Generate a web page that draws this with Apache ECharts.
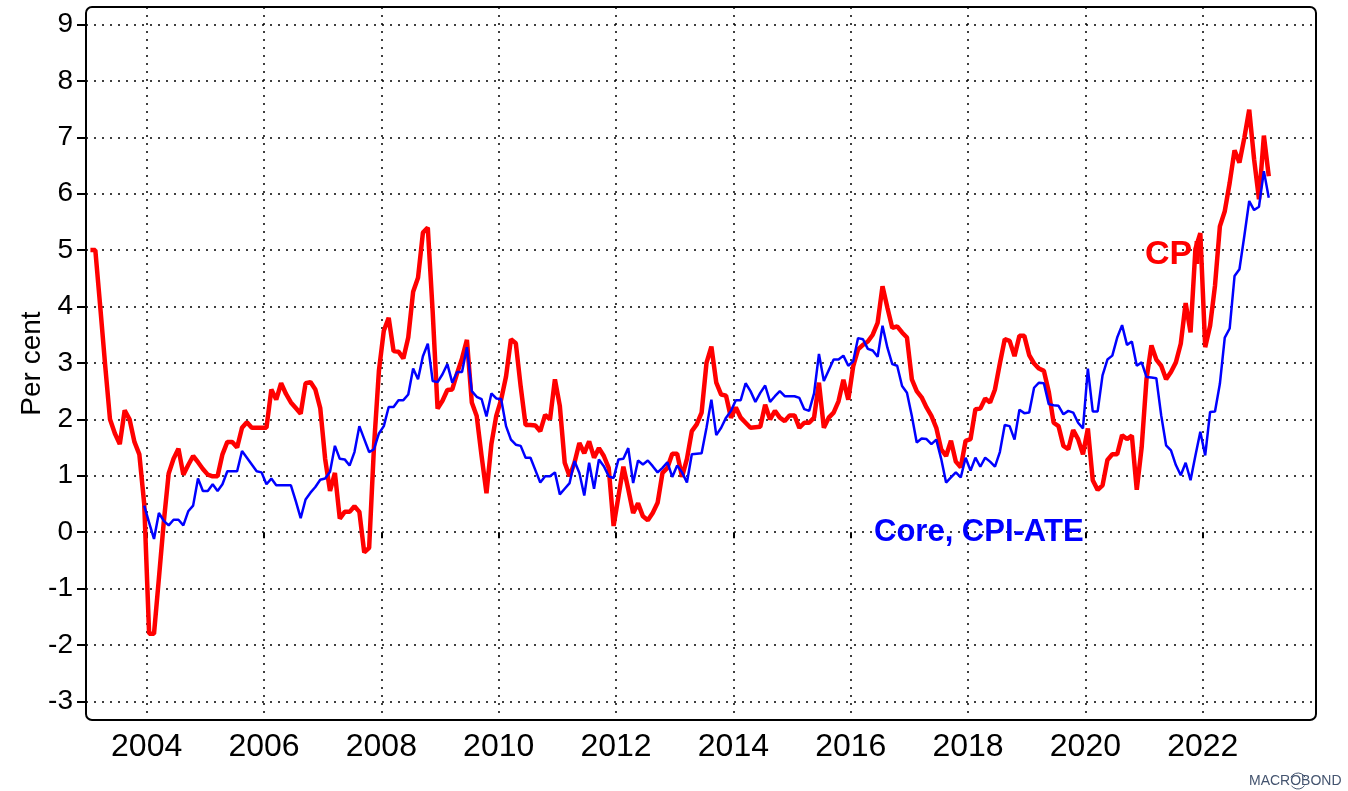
<!DOCTYPE html>
<html>
<head>
<meta charset="utf-8">
<script src="https://cdn.jsdelivr.net/npm/echarts@6/dist/echarts.min.js"></script>
<style>
  html, body { margin: 0; padding: 0; background: #fff; }
  #main { width: 1348px; height: 791px; }
</style>
</head>
<body>
<div id="main"></div>
<script>
// Norway, 12-month change, monthly
var startYear = 2003;
var cpiStart = 0;    // Jan 2003
var coreStart = 11;  // Dec 2003

var cpi = [5.0, 5.0, 4.0, 2.97, 2.0, 1.75, 1.56, 2.16, 2.0, 1.6, 1.38, 0.5,
    -1.8, -1.8, -0.82, 0.18, 1.04, 1.3, 1.48, 1.02, 1.19, 1.35, 1.24, 1.12,
    1.02, 0.99, 0.99, 1.38, 1.6, 1.6, 1.5, 1.85, 1.95, 1.85, 1.85, 1.85,
    1.85, 2.53, 2.35, 2.64, 2.45, 2.3, 2.2, 2.1, 2.64, 2.66, 2.53, 2.2,
    1.3, 0.73, 1.05, 0.24, 0.36, 0.36, 0.46, 0.36, -0.36, -0.28, 1.53, 2.86,
    3.57, 3.8, 3.21, 3.2, 3.08, 3.45, 4.26, 4.51, 5.31, 5.4, 3.9, 2.19,
    2.33, 2.52, 2.53, 2.82, 3.08, 3.41, 2.3, 2.06, 1.35, 0.69, 1.56, 2.06,
    2.35, 2.76, 3.42, 3.35, 2.58, 1.9, 1.9, 1.89, 1.79, 2.08, 2.0, 2.71,
    2.24, 1.23, 0.99, 1.23, 1.58, 1.4, 1.61, 1.32, 1.49, 1.35, 1.14, 0.11,
    0.64, 1.16, 0.76, 0.34, 0.51, 0.28, 0.21, 0.34, 0.52, 1.05, 1.14, 1.39,
    1.39, 0.98, 1.3, 1.79, 1.91, 2.12, 3.0, 3.29, 2.65, 2.44, 2.42, 2.03,
    2.21, 2.03, 1.94, 1.85, 1.86, 1.87, 2.26, 2.0, 2.15, 2.03, 1.97, 2.07,
    2.07, 1.85, 1.94, 1.94, 2.03, 2.65, 1.85, 2.03, 2.12, 2.32, 2.7, 2.35,
    2.94, 3.24, 3.32, 3.38, 3.5, 3.71, 4.36, 3.98, 3.62, 3.65, 3.54, 3.45,
    2.71, 2.5, 2.39, 2.21, 2.06, 1.85, 1.47, 1.35, 1.62, 1.25, 1.15, 1.62,
    1.65, 2.18, 2.19, 2.37, 2.3, 2.53, 2.99, 3.42, 3.39, 3.12, 3.48, 3.48,
    3.14, 2.99, 2.9, 2.86, 2.49, 1.94, 1.88, 1.53, 1.47, 1.81, 1.65, 1.38,
    1.84, 0.92, 0.75, 0.83, 1.28, 1.38, 1.38, 1.72, 1.65, 1.71, 0.75, 1.5,
    2.72, 3.31, 3.06, 2.95, 2.71, 2.84, 3.01, 3.34, 4.06, 3.54, 5.02, 5.3,
    3.28, 3.66, 4.37, 5.42, 5.69, 6.19, 6.77, 6.55, 6.99, 7.49, 6.61, 5.9,
    7.03, 6.31];

var core = [0.47,
    0.17, -0.12, 0.34, 0.2, 0.12, 0.22, 0.22, 0.12, 0.37, 0.47, 0.95, 0.73,
    0.73, 0.85, 0.73, 0.85, 1.08, 1.08, 1.08, 1.44, 1.32, 1.2, 1.08, 1.06,
    0.85, 0.95, 0.83, 0.83, 0.83, 0.83, 0.55, 0.25, 0.58, 0.7, 0.8, 0.93,
    0.95, 1.07, 1.53, 1.3, 1.29, 1.18, 1.42, 1.88, 1.65, 1.42, 1.47, 1.75,
    1.88, 2.22, 2.22, 2.34, 2.34, 2.44, 2.9, 2.71, 3.12, 3.34, 2.68, 2.66,
    2.8, 2.98, 2.65, 2.84, 2.84, 3.28, 2.5, 2.4, 2.36, 2.05, 2.46, 2.37,
    2.36, 1.88, 1.64, 1.55, 1.53, 1.32, 1.32, 1.1, 0.88, 0.99, 0.99, 1.06,
    0.67, 0.77, 0.87, 1.26, 1.05, 0.65, 1.23, 0.77, 1.29, 1.17, 0.99, 0.96,
    1.29, 1.3, 1.49, 0.87, 1.27, 1.2, 1.27, 1.17, 1.06, 1.14, 1.24, 0.98,
    1.18, 1.06, 0.88, 1.38, 1.39, 1.4, 1.85, 2.35, 1.72, 1.85, 2.03, 2.15,
    2.34, 2.34, 2.64, 2.5, 2.31, 2.47, 2.6, 2.31, 2.41, 2.5, 2.41, 2.41,
    2.41, 2.38, 2.18, 2.15, 2.46, 3.16, 2.68, 2.87, 3.06, 3.06, 3.13, 2.95,
    3.03, 3.44, 3.42, 3.25, 3.22, 3.11, 3.66, 3.27, 2.98, 2.95, 2.59, 2.47,
    2.06, 1.59, 1.66, 1.65, 1.56, 1.64, 1.3, 0.88, 0.97, 1.06, 0.97, 1.32,
    1.09, 1.32, 1.16, 1.32, 1.25, 1.16, 1.42, 1.9, 1.88, 1.64, 2.17, 2.11,
    2.12, 2.56, 2.65, 2.64, 2.27, 2.25, 2.24, 2.09, 2.15, 2.12, 1.94, 1.84,
    2.9, 2.14, 2.14, 2.78, 3.06, 3.13, 3.45, 3.67, 3.32, 3.38, 2.95, 3.01,
    2.75, 2.74, 2.73, 2.07, 1.54, 1.45, 1.19, 1.01, 1.23, 0.92, 1.36, 1.78,
    1.36, 2.13, 2.14, 2.63, 3.45, 3.61, 4.54, 4.66, 5.25, 5.87, 5.71, 5.77,
    6.4, 5.93];

var yearTicks = [2004, 2006, 2008, 2010, 2012, 2014, 2016, 2018, 2020, 2022];
var valueTicks = [-3, -2, -1, 0, 1, 2, 3, 4, 5, 6, 7, 8, 9];

// monthly points sit in the middle of the month
function toPairs(values, first) {
    return values.map(function (v, i) {
        return [startYear + (first + i + 0.5) / 12, v];
    });
}

var font = '"Liberation Sans", Arial, sans-serif';
var dotted = { color: '#000', width: 1.5, type: [2, 6] };
var logoColor = '#44546f';

var myChart = echarts.init(document.getElementById('main'));
var option = {
    animation: false,
    backgroundColor: '#fff',
    grid: { left: 86, right: 32, top: 7, bottom: 71 },
    xAxis: {
        type: 'value',
        min: 2002.966,
        max: 2023.93,
        axisLine: { show: false },
        axisTick: { show: true, inside: false, length: 6, customValues: yearTicks,
            lineStyle: { color: '#000', width: 2 } },
        axisLabel: { customValues: yearTicks, margin: 11, fontSize: 32, color: '#000',
            fontFamily: font, formatter: function (v) { return String(v); } },
        splitLine: { show: true, lineStyle: dotted }
    },
    yAxis: {
        type: 'value',
        min: -3.33,
        max: 9.31,
        name: 'Per cent',
        nameLocation: 'middle',
        nameGap: 40,
        nameMoveOverlap: false,
        nameTextStyle: { fontSize: 28, color: '#000', fontFamily: font },
        axisLine: { show: false },
        axisTick: { show: true, inside: false, length: 9, customValues: valueTicks,
            lineStyle: { color: '#000', width: 2 } },
        axisLabel: { customValues: valueTicks, margin: 13, fontSize: 28, color: '#000',
            fontFamily: font },
        splitLine: { show: true, lineStyle: dotted }
    },
    series: [{
        name: 'CPI',
        type: 'line',
        showSymbol: false,
        data: toPairs(cpi, cpiStart),
        lineStyle: { color: '#ff0000', width: 4.5 },
        z: 3
    }, {
        name: 'Core, CPI-ATE',
        type: 'line',
        showSymbol: false,
        data: toPairs(core, coreStart),
        lineStyle: { color: '#0000ff', width: 2.5 },
        z: 4
    }],
    graphic: [{
        type: 'rect',
        shape: { x: 86, y: 7, width: 1230, height: 713, r: 6 },
        style: { fill: 'none', stroke: '#000', lineWidth: 2 },
        z: 10
    }, {
        type: 'text', left: 1145, top: 238,
        style: { text: 'CPI', fill: '#ff0000', font: 'bold 34px ' + font },
        z: 11
    }, {
        type: 'text', left: 874, top: 517,
        style: { text: 'Core, CPI-ATE', fill: '#0000ff', font: 'bold 31px ' + font },
        z: 11
    }, {
        type: 'text', left: 1249, top: 774,
        style: { text: 'MACROBOND', fill: logoColor, font: '14px ' + font },
        z: 11
    }, {
        // the arcs round the second O of the logo
        type: 'arc',
        shape: { cx: 1298, cy: 781, r: 8, startAngle: Math.PI * 1.15, endAngle: Math.PI * 1.85 },
        style: { fill: 'none', stroke: logoColor, lineWidth: 1 },
        z: 11
    }, {
        type: 'arc',
        shape: { cx: 1298, cy: 781, r: 8, startAngle: Math.PI * 0.2, endAngle: Math.PI * 0.8 },
        style: { fill: 'none', stroke: logoColor, lineWidth: 1 },
        z: 11
    }]
};
myChart.setOption(option);
</script>
</body>
</html>
